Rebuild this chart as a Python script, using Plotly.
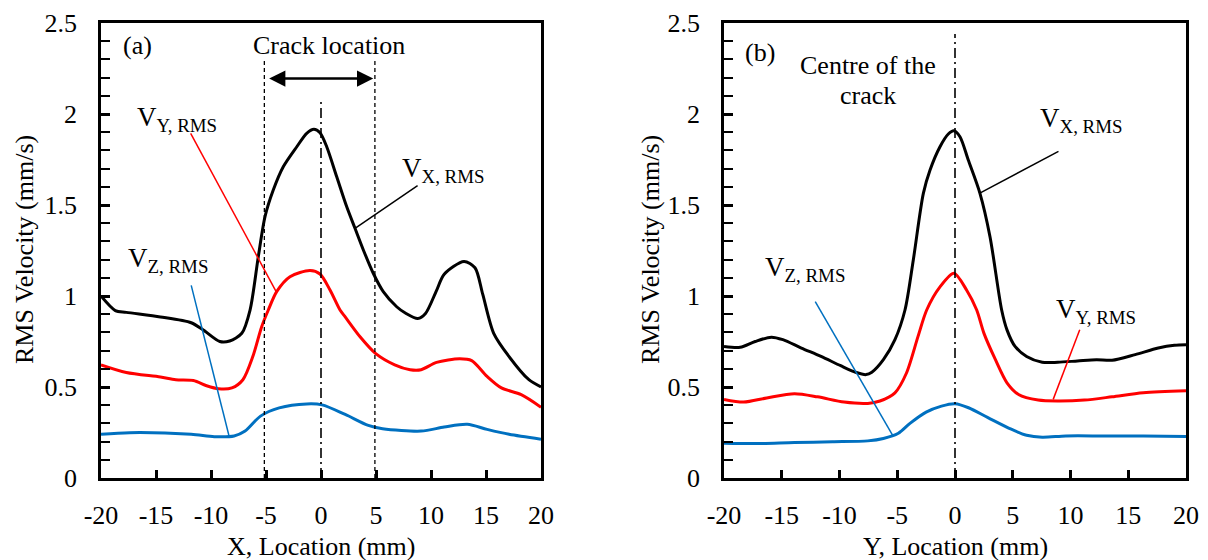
import plotly.graph_objects as go

# ---------------- data ----------------
# Panel (a): scan along X
xa_vx = [-20, -18.7, -17.7, -14.6, -11.8, -10.7, -9.2, -8.3, -7.2, -6.45, -5.7, -5.09, -4.34, -3.43, -2.2,
         -1.3, -0.64, -0.09, 0.52, 1.43, 2.34, 3.09, 3.85, 4.75, 5.66, 6.88, 7.7, 8.8, 9.5, 10.5, 11.2,
         13.0, 14.0, 14.7, 15.7, 17.1, 18.9, 20]
ya_vx = [1.00, 0.92, 0.91, 0.885, 0.853, 0.813, 0.75, 0.753, 0.795, 0.923, 1.216, 1.436, 1.582, 1.71, 1.82,
         1.894, 1.916, 1.897, 1.82, 1.655, 1.49, 1.372, 1.253, 1.125, 1.024, 0.941, 0.905, 0.876, 0.904,
         1.03, 1.12, 1.19, 1.155, 1.01, 0.795, 0.667, 0.54, 0.50]

xa_vy = [-20, -17.7, -14.6, -13.2, -11.6, -10.4, -9.3, -8.1, -7.1, -6.2, -5.4, -4.79, -4.03, -2.82, -1.0,
         -0.09, 0.82, 1.73, 2.2, 3.55, 4.95, 6.7, 8.1, 9.1, 10.5, 12.6, 13.7, 15.1, 16.4, 18.2, 20]
ya_vy = [0.622, 0.58, 0.555, 0.54, 0.536, 0.507, 0.49, 0.495, 0.54, 0.667, 0.83, 0.923, 1.024, 1.106, 1.14,
         1.121, 1.033, 0.923, 0.885, 0.776, 0.685, 0.622, 0.595, 0.595, 0.635, 0.655, 0.645, 0.558, 0.495,
         0.458, 0.389]

xa_vz = [-20, -17.4, -11.8, -9.7, -7.9, -6.9, -5.5, -3.8, -1.3, 0.1, 2.2, 4.3, 5.6, 9.1, 11.2, 13.3,
         15.1, 17.1, 20]
ya_vz = [0.24, 0.249, 0.24, 0.227, 0.231, 0.258, 0.34, 0.385, 0.407, 0.402, 0.349, 0.289, 0.271, 0.258,
         0.28, 0.295, 0.267, 0.24, 0.213]

# Panel (b): scan along Y
xb_vx = [-20, -18.6, -17.3, -15.9, -14.9, -13.3, -11.6, -9.9, -8.6, -7.7, -7.2, -6.2, -5.2, -4.33, -3.61,
         -2.74, -2.16, -1.3, -0.58, -0.09, 0.43, 1.15, 2.16, 3.03, 4.04, 4.5, 5.2, 6.2, 7.55, 8.9, 10.6,
         12.25, 13.6, 15.6, 17.6, 19.0, 20]
yb_vx = [0.723, 0.718, 0.75, 0.774, 0.76, 0.714, 0.668, 0.617, 0.581, 0.568, 0.581, 0.65, 0.76, 0.923,
         1.198, 1.564, 1.692, 1.82, 1.89, 1.908, 1.875, 1.747, 1.564, 1.326, 0.923, 0.814, 0.723, 0.668,
         0.636, 0.636, 0.643, 0.65, 0.647, 0.678, 0.714, 0.729, 0.732]

xb_vy = [-20, -18.3, -16.3, -13.9, -11.9, -9.6, -7.55, -6.5, -5.2, -4.2, -3.2, -2.45, -1.3, -0.09, 1.0,
         1.88, 2.5, 3.5, 4.5, 5.5, 7.2, 8.9, 11.2, 13.6, 16.3, 20]
yb_vy = [0.432, 0.417, 0.44, 0.463, 0.446, 0.417, 0.41, 0.423, 0.468, 0.577, 0.778, 0.923, 1.05, 1.125,
         1.033, 0.923, 0.796, 0.65, 0.523, 0.459, 0.428, 0.423, 0.428, 0.446, 0.468, 0.479]

xb_vz = [-20, -17.3, -13.9, -10.6, -7.55, -6.2, -4.9, -3.9, -2.5, -1.17, 0, 1.17, 2.85, 4.87, 6.2, 7.55,
         9.6, 12.9, 16.3, 20]
yb_vz = [0.191, 0.189, 0.195, 0.199, 0.204, 0.217, 0.246, 0.30, 0.362, 0.395, 0.408, 0.386, 0.332, 0.268,
         0.235, 0.224, 0.231, 0.231, 0.231, 0.228]

x_tickvals = [-20, -15, -10, -5, 0, 5, 10, 15, 20]
x_ticktext = ["-20", "-15", "-10", "-5", "0", "5", "10", "15", "20"]
y_tickvals = [0, 0.5, 1, 1.5, 2, 2.5]
y_ticktext = ["0", "0.5", "1", "1.5", "2", "2.5"]

BLACK = "#000000"
RED = "#FF0000"
BLUE = "#0070C0"
FONT = "Liberation Serif"

W, H = 1208, 560
ML, MR, MT, MB = 0, 0, 23, 82

fig = go.Figure()

def add_curve(x, y, color, xa, ya):
    fig.add_trace(go.Scatter(x=x, y=y, mode="lines", xaxis=xa, yaxis=ya,
                             line=dict(color=color, width=3, shape="spline", smoothing=0.8),
                             showlegend=False, hoverinfo="skip"))

add_curve(xa_vz, ya_vz, BLUE, "x", "y")
add_curve(xa_vy, ya_vy, RED, "x", "y")
add_curve(xa_vx, ya_vx, BLACK, "x", "y")
add_curve(xb_vz, yb_vz, BLUE, "x2", "y2")
add_curve(xb_vy, yb_vy, RED, "x2", "y2")
add_curve(xb_vx, yb_vx, BLACK, "x2", "y2")

def xaxis_cfg(domain, anchor):
    return dict(domain=domain, anchor=anchor, range=[-20, 20], showgrid=False, zeroline=False,
                showline=True, linecolor=BLACK, linewidth=2.5, mirror=True,
                ticks="inside", ticklen=8, tickwidth=2.5, tickcolor=BLACK,
                tickvals=x_tickvals, ticktext=x_ticktext, ticklabelstandoff=12,
                tickfont=dict(family=FONT, size=26, color=BLACK), automargin=False,
                fixedrange=True)

def yaxis_cfg(anchor):
    return dict(anchor=anchor, range=[0, 2.5], showgrid=False, zeroline=False,
                showline=True, linecolor=BLACK, linewidth=2.5, mirror=True,
                ticks="inside", ticklen=9, tickwidth=2.5, tickcolor=BLACK,
                tickvals=y_tickvals, ticktext=y_ticktext, ticklabelstandoff=16,
                minor=dict(dtick=0.1, tick0=0, ticks="inside", ticklen=9, tickwidth=2, tickcolor=BLACK),
                tickfont=dict(family=FONT, size=26, color=BLACK), automargin=False,
                fixedrange=True)

fig.update_layout(
    width=W, height=H,
    margin=dict(l=ML, r=MR, t=MT, b=MB, pad=0),
    paper_bgcolor="white", plot_bgcolor="white",
    template="none",
    xaxis=xaxis_cfg([101 / W, 541 / W], "y"),
    yaxis=yaxis_cfg("x"),
    xaxis2=xaxis_cfg([724 / W, 1186 / W], "y2"),
    yaxis2=yaxis_cfg("x2"),
    font=dict(family=FONT, size=26, color=BLACK),
)

# ---------------- shapes ----------------
DASHDOT = "10px,4px,2px,4px"
shapes = []
for xv in (-5.15, 4.9):
    shapes.append(dict(type="line", xref="x", yref="y", x0=xv, x1=xv, y0=0, y1=2.296,
                       line=dict(color=BLACK, width=1.3, dash="4px,3px")))
shapes.append(dict(type="line", xref="x", yref="y", x0=0, x1=0, y0=0, y1=2.07,
                   line=dict(color=BLACK, width=1.6, dash=DASHDOT)))
shapes.append(dict(type="line", xref="x2", yref="y2", x0=0, x1=0, y0=0, y1=2.44,
                   line=dict(color=BLACK, width=1.6, dash=DASHDOT)))
# leader lines panel (a)
shapes.append(dict(type="line", xref="x", yref="y", x0=-11.85, y0=1.894, x1=-4.04, y1=1.02,
                   line=dict(color=RED, width=1.5)))
shapes.append(dict(type="line", xref="x", yref="y", x0=8.78, y0=1.606, x1=3.09, y1=1.372,
                   line=dict(color=BLACK, width=1.5)))
shapes.append(dict(type="line", xref="x", yref="y", x0=-11.8, y0=1.058, x1=-8.36, y1=0.231,
                   line=dict(color=BLUE, width=1.5)))
# leader lines panel (b)
shapes.append(dict(type="line", xref="x2", yref="y2", x0=8.96, y0=1.795, x1=2.11, y1=1.564,
                   line=dict(color=BLACK, width=1.5)))
shapes.append(dict(type="line", xref="x2", yref="y2", x0=-12.1, y0=0.969, x1=-5.37, y1=0.231,
                   line=dict(color=BLUE, width=1.5)))
shapes.append(dict(type="line", xref="x2", yref="y2", x0=10.8, y0=0.814, x1=8.5, y1=0.432,
                   line=dict(color=RED, width=1.5)))
fig.update_layout(shapes=shapes)

# ---------------- annotations ----------------
ann = []
def txt(text, x, y, xr, yr, xanchor="center", yanchor="middle", size=26):
    ann.append(dict(text=text, x=x, y=y, xref=xr, yref=yr, xanchor=xanchor, yanchor=yanchor,
                    showarrow=False, font=dict(family=FONT, size=size, color=BLACK)))

# panel (a)
txt("(a)", -16.7, 2.378, "x", "y")
txt("Crack location", 0.7, 2.378, "x", "y")
txt("V<sub>Y, RMS</sub>", -16.9, 1.97, "x", "y", xanchor="left", size=27)
txt("V<sub>X, RMS</sub>", 7.2, 1.69, "x", "y", xanchor="left", size=27)
txt("V<sub>Z, RMS</sub>", -17.7, 1.20, "x", "y", xanchor="left", size=27)
# panel (b)
txt("(b)", -16.9, 2.339, "x2", "y2")
txt("Centre of the", -7.55, 2.266, "x2", "y2")
txt("crack", -7.55, 2.10, "x2", "y2")
txt("V<sub>X, RMS</sub>", 7.2, 1.965, "x2", "y2", xanchor="left", size=27)
txt("V<sub>Z, RMS</sub>", -16.6, 1.15, "x2", "y2", xanchor="left", size=27)
txt("V<sub>Y, RMS</sub>", 8.56, 0.92, "x2", "y2", xanchor="left", size=27)

def ptxt(text, px, py, angle=0):
    ann.append(dict(text=text, x=px / W, y=(H - MB - py) / (H - MB - MT), xref="paper", yref="paper",
                    xanchor="center", yanchor="middle", showarrow=False, textangle=angle,
                    font=dict(family=FONT, size=26, color=BLACK)))

ptxt("RMS Velocity (mm/s)", 24, 250, -90)
ptxt("RMS Velocity (mm/s)", 650, 250, -90)
ptxt("X, Location (mm)", 321, 546)
ptxt("Y, Location (mm)", 955, 546)

# double-headed arrow "Crack location"
ann.append(dict(x=4.75, y=2.195, ax=-4.85, ay=2.195, xref="x", yref="y", axref="x", ayref="y",
                text="", showarrow=True, arrowhead=2, startarrowhead=2, arrowside="end+start",
                arrowsize=1.3, startarrowsize=1.3, arrowwidth=2.5, arrowcolor=BLACK))

fig.update_layout(annotations=ann)

fig.write_html("out.html", config={"displayModeBar": False})
